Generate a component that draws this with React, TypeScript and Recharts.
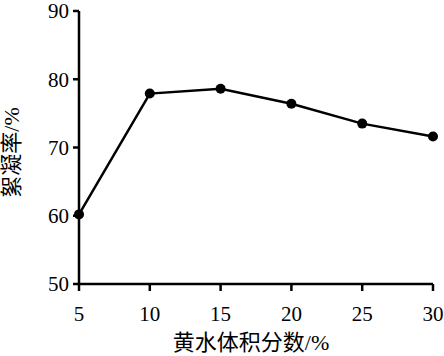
import React from "react";
import { LineChart, Line, XAxis, YAxis } from "recharts";

const fractions = [5, 10, 15, 20, 25, 30];
const flocculation = [60.2, 77.9, 78.6, 76.4, 73.5, 71.6];
const xTicks = [5, 10, 15, 20, 25, 30];
const yTicks = [50, 60, 70, 80, 90];
const xTitle = "黄水体积分数/%";
const yTitle = "絮凝率/%";

const data = fractions.map((f, i) => ({ f, v: flocculation[i] }));

const FONT = '"Liberation Serif", "Times New Roman", "DejaVu Serif", "Noto Sans CJK SC", serif';

const YTitle = (props: any) => {
  const vb = props.viewBox || {};
  const cx = 11;
  const cy = vb.y + vb.height / 2 + 5;
  return (
    <text
      x={cx}
      y={cy}
      transform={`rotate(-90 ${cx} ${cy})`}
      textAnchor="middle"
      dominantBaseline="central"
      style={{ fontFamily: FONT, fontSize: 22 }}
      fill="#000"
    >
      {yTitle}
    </text>
  );
};

const XTitle = (props: any) => {
  const vb = props.viewBox || {};
  const cx = vb.x + vb.width / 2 - 5;
  return (
    <text x={cx} y={350} textAnchor="middle" style={{ fontFamily: FONT, fontSize: 22 }} fill="#000">
      {xTitle}
    </text>
  );
};

const tickStyle = { fill: "#000", fontSize: 21, fontFamily: FONT, style: { fontFamily: FONT } };

export default function App() {
  return (
    <div
      style={{
        position: "absolute",
        left: 0,
        top: 0,
        width: 444,
        height: 356,
        background: "#fff",
        fontFamily: FONT,
      }}
    >
      <LineChart
        width={444}
        height={356}
        data={data}
        margin={{ top: 11, right: 11, left: 0, bottom: 0 }}
        style={{ fontFamily: FONT }}
      >
        <XAxis
          dataKey="f"
          type="number"
          domain={[5, 30]}
          ticks={xTicks}
          interval={0}
          height={72}
          stroke="#000"
          strokeWidth={2.5}
          tickSize={7}
          tickMargin={15}
          tick={tickStyle}
          tickLine={{ stroke: "#000", strokeWidth: 2.5 }}
          label={<XTitle />}
        />
        <YAxis
          type="number"
          domain={[50, 90]}
          ticks={yTicks}
          interval={0}
          width={79}
          stroke="#000"
          strokeWidth={2.5}
          tickSize={6}
          tickMargin={4}
          tick={tickStyle}
          tickLine={{ stroke: "#000", strokeWidth: 2.5 }}
          label={<YTitle />}
        />
        <Line
          dataKey="v"
          stroke="#000"
          strokeWidth={2.5}
          dot={{ r: 5, fill: "#000", stroke: "#000", strokeWidth: 0 }}
          activeDot={false}
          isAnimationActive={false}
        />
      </LineChart>
    </div>
  );
}
